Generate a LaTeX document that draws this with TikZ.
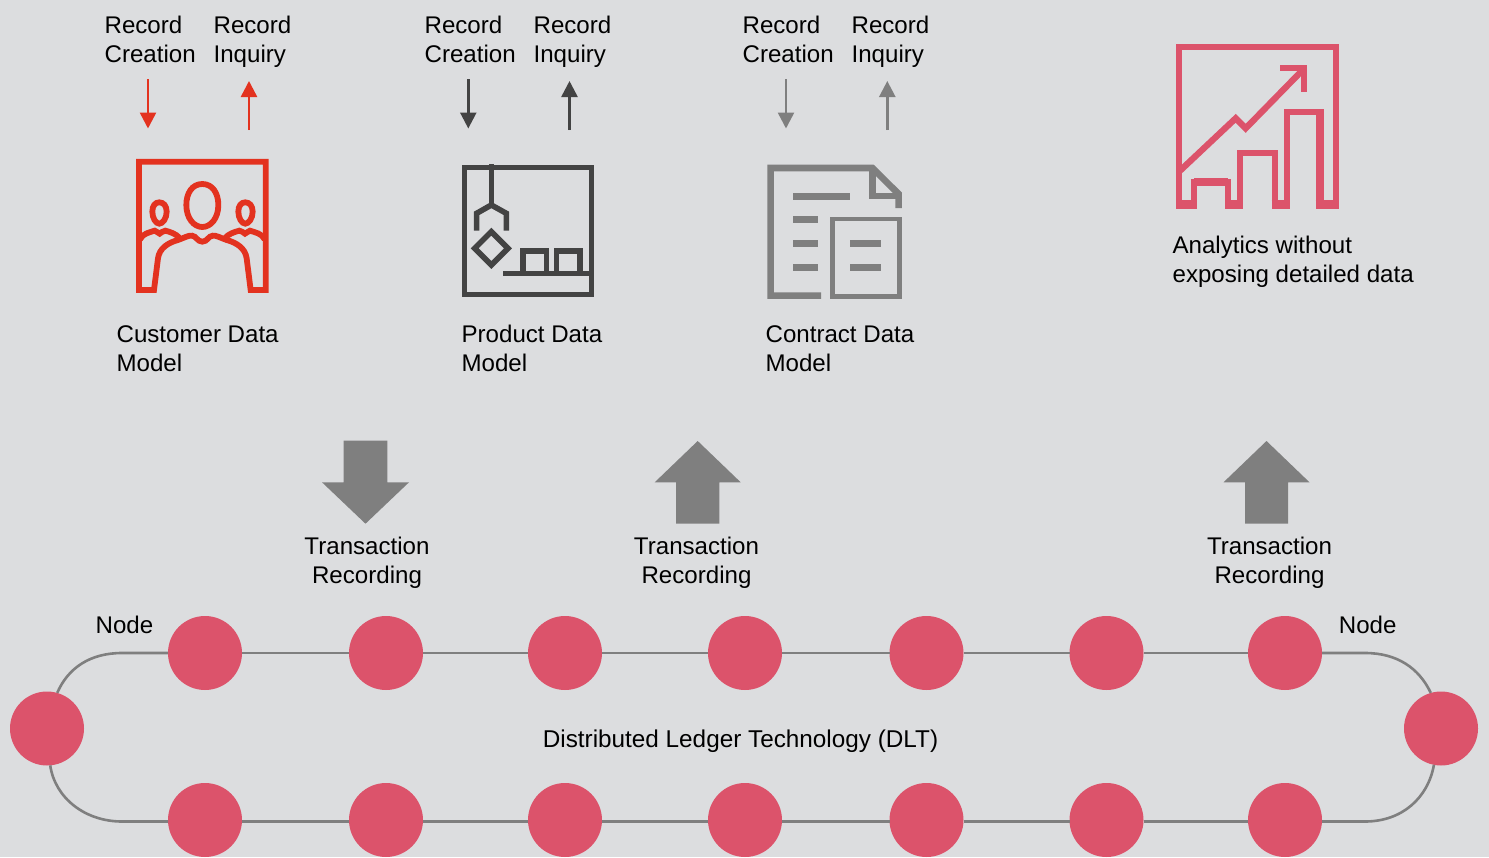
\documentclass[tikz,border=0pt]{standalone}
\usepackage{fontspec}
\setmainfont{Liberation Sans}
\usetikzlibrary{arrows.meta}
\definecolor{bgc}{HTML}{DCDDDF}
\definecolor{redc}{HTML}{E3321F}
\definecolor{darkc}{HTML}{434343}
\definecolor{grayc}{HTML}{7F7F7F}
\definecolor{pinkc}{HTML}{DC536B}
\tikzset{
  lbl/.style={inner sep=0pt,outer sep=0pt,anchor=north west,align=left,text=black,font=\fontsize{24.1}{29}\selectfont},
  lblc/.style={lbl,anchor=north,align=center},
  dlt/.style={circle,fill=pinkc,minimum size=74pt,inner sep=0pt,outer sep=0pt},
  ring/.style={draw=grayc,line width=2.6pt},
  flow/.style={line width=2.5pt,-{Triangle[length=16pt,width=16pt]},shorten >=0pt},
  block/.style={fill=grayc},
  icon/.style={x=0.33333pt,y=-0.33333pt},
  icl/.style={line join=miter,miter limit=10,fill=none}
}
\begin{document}
\begin{tikzpicture}[x=1pt,y=-1pt]
\useasboundingbox (0,0) rectangle (1489,857);
\fill[bgc] (0,0) rectangle (1489,857);

% top labels
\foreach \nm/\xa/\xb in {a/104.6/213.6,b/424.6/533.6,c/742.6/851.6}{
  \node[lbl] (rc\nm) at (\xa,15.9) {Record\\Creation};
  \node[lbl] (ri\nm) at (\xb,15.9) {Record\\Inquiry};
}
% small arrows
\foreach \nm/\xa/\xb/\col in {a/148/249/redc,b/468.3/569.5/darkc,c/786/887.3/grayc}{
  \coordinate (ds\nm) at (\xa,79);
  \coordinate (de\nm) at (\xa,128.5);
  \coordinate (us\nm) at (\xb,130);
  \coordinate (ue\nm) at (\xb,81);
  \draw[flow,draw=\col,fill=\col] (ds\nm) -- (de\nm);
  \draw[flow,draw=\col,fill=\col] (us\nm) -- (ue\nm);
}

% customer icon
\begin{scope}[icon,xshift=120pt,yshift=-70pt,draw=redc,line width=5.8pt]
  \draw[icl] (102,660) -- (57,660) -- (57,275) -- (437,275) -- (437,660) -- (392,660)
     -- (380,565) .. controls (376,535) and (350,518) .. (320,510)
     .. controls (300,503) and (290,496) .. (278,497)
     .. controls (265,498) and (262,515) .. (247,515)
     .. controls (232,515) and (229,498) .. (216,497)
     .. controls (204,496) and (194,503) .. (174,510)
     .. controls (144,518) and (118,535) .. (114,565) -- cycle;
  \draw[icl] (60,508) .. controls (68,490) and (90,487) .. (104,482)
     .. controls (112,482) and (112,491) .. (119,491)
     .. controls (126,491) and (126,480) .. (136,482)
     .. controls (152,486) and (168,492) .. (178,503);
  \draw[icl] (434,508) .. controls (426,490) and (404,487) .. (390,482)
     .. controls (382,482) and (382,491) .. (375,491)
     .. controls (368,491) and (368,480) .. (358,482)
     .. controls (342,486) and (326,492) .. (316,503);
  \draw[icl] (247,342) .. controls (278,342) and (295,370) .. (295,405)
     .. controls (295,445) and (272,471) .. (247,471)
     .. controls (222,471) and (199,445) .. (199,405)
     .. controls (199,370) and (216,342) .. (247,342) -- cycle;
  \foreach \sx in {0,258}{
    \begin{scope}[xshift=\sx*0.33333pt]
    \draw[icl] (118,397) .. controls (130,397) and (140,407) .. (140,425)
       .. controls (140,445) and (128,461) .. (118,461)
       .. controls (108,461) and (97,445) .. (97,425)
       .. controls (97,407) and (106,397) .. (118,397) -- cycle;
    \end{scope}
  }
\end{scope}
% product icon
\begin{scope}[icon,xshift=450pt,yshift=-70pt,draw=darkc,line width=5.6pt]
  \draw[icl] (43,293) rectangle (424,674);
  \draw[icl] (124,283) -- (124,405);
  \draw[icl] (80,482) -- (80,430) -- (124,405) -- (169,430) -- (169,482);
  \draw[icl] (124,485) -- (174,535) -- (124,585) -- (74,535) -- cycle;
  \draw[icl] (160,611) -- (424,611);
  \draw[icl] (219,611) -- (219,543) -- (289,543) -- (289,611);
  \draw[icl] (320,611) -- (320,543) -- (390,543) -- (390,611);
\end{scope}
% contract icon
\begin{scope}[icon,xshift=755pt,yshift=-70pt,draw=grayc]
  \draw[icl,line width=6.6pt] (198,677) -- (47,677) -- (47,294) -- (352,294) -- (431,372) -- (431,414);
  \draw[icl,line width=6.6pt] (352,294) -- (352,378) -- (431,378);
  \draw[icl,line width=4.8pt] (233,447) rectangle (434,680);
  \draw[icl,line width=6.7pt] (114,379) -- (285,379);
  \draw[icl,line width=6.7pt] (114,449) -- (189,449);
  \draw[icl,line width=6.7pt] (114,520) -- (189,520);
  \draw[icl,line width=6.7pt] (114,592) -- (189,592);
  \draw[icl,line width=6.7pt] (285,520) -- (378,520);
  \draw[icl,line width=6.7pt] (285,592) -- (378,592);
\end{scope}
% analytics icon
\begin{scope}[icon,xshift=1165pt,yshift=-35pt,draw=pinkc,line width=6.3pt]
  \draw[icl] (42,508) -- (42,35) -- (513,35) -- (513,508) -- (465,508) -- (465,232) -- (366,232)
     -- (366,508) -- (329,508) -- (329,353) -- (226,353) -- (226,508) -- (189,508)
     -- (189,440) -- (87,440) -- (87,508) -- cycle;
  \draw[icl,line width=8.6pt] (33,508) -- (96,508);
  \draw[icl,line width=8.6pt] (180,508) -- (235,508);
  \draw[icl,line width=8.6pt] (320,508) -- (375,508);
  \draw[icl,line width=8.6pt] (452,508) -- (522,508);
  \draw[icl,line width=8.6pt] (465,223) -- (465,508);
  \draw[icl,line width=8pt] (87,440) -- (189,440);
  \draw[icl] (42,410) -- (212,250) -- (242,280) -- (413,105);
  \draw[icl] (345,98) -- (418,98) -- (418,172);
\end{scope}

% icon labels
\node[lbl] (lcust) at (116.6,325.5) {Customer Data\\Model};
\node[lbl] (lprod) at (461.6,325.5) {Product Data\\Model};
\node[lbl] (lcont) at (765.6,325.5) {Contract Data\\Model};
\node[lbl] (lana) at (1172.6,236.5) {Analytics without\\exposing detailed data};

% block arrows
\fill[block] (343.7,440.7) -- (387.3,440.7) -- (387.3,482.3) -- (409,482.3) -- (365.5,523.7) -- (322,482.3) -- (343.7,482.3) -- cycle;
\fill[block] (697.7,441) -- (740.7,482.3) -- (719.3,482.3) -- (719.3,523.7) -- (676,523.7) -- (676,482.3) -- (654.7,482.3) -- cycle;
\fill[block] (1266.5,441) -- (1309.5,482.3) -- (1288,482.3) -- (1288,523.7) -- (1245,523.7) -- (1245,482.3) -- (1223.5,482.3) -- cycle;
\node[lblc] (tr1) at (367,537.2) {Transaction\\Recording};
\node[lblc] (tr2) at (696.5,537.2) {Transaction\\Recording};
\node[lblc] (tr3) at (1269.5,537.2) {Transaction\\Recording};

% ledger
\foreach \i/\x in {1/205,2/386,3/565,4/745,5/926.5,6/1106.5,7/1285}{
  \node[dlt] (t\i) at (\x,653) {};
  \node[dlt] (b\i) at (\x,820) {};
}
\node[dlt] (L) at (47,728.5) {};
\node[dlt] (R) at (1441,728.5) {};
\foreach \i/\j in {1/2,2/3,3/4,4/5,5/6,6/7}{
  \draw[ring] (t\i) -- (t\j);
  \draw[ring] ([yshift=-1.5pt]b\i.east) -- ([yshift=-1.5pt]b\j.west);
}
\coordinate (ctl) at (122,653);
\coordinate (cbl) at (122,821.5);
\coordinate (ctr) at (1365,653);
\coordinate (cbr) at (1365,821.5);
\draw[ring] (t1.west) -- (ctl) .. controls (90,653) and (68,668) .. (L.74);
\draw[ring] ([yshift=-1.5pt]b1.west) -- (cbl) .. controls (85,821.5) and (55,798) .. (L.-85);
\draw[ring] (t7.east) -- (ctr) .. controls (1397,653) and (1419,668) .. (R.106);
\draw[ring] ([yshift=-1.5pt]b7.east) -- (cbr) .. controls (1402,821.5) and (1428,798) .. (R.-101);
\node[lbl] (nl) at (95.6,616.5) {Node};
\node[lbl] (nr) at (1338.9,616.5) {Node};
\node[lblc,font=\fontsize{24.3}{29}\selectfont] (dltl) at (740.5,729.7) {Distributed Ledger Technology (DLT)};
\end{tikzpicture}
\end{document}
